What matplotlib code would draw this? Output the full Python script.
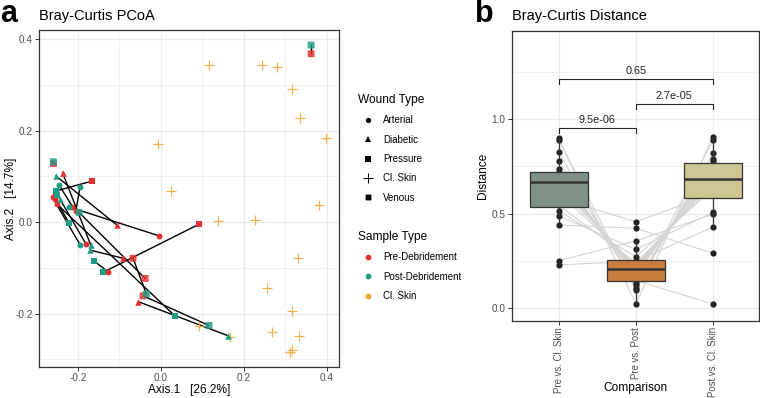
import matplotlib.pyplot as plt
from matplotlib.lines import Line2D
from matplotlib.path import Path
import numpy as np

plt.rcParams['font.family'] = ['Liberation Sans', 'DejaVu Sans']
plt.rcParams['axes.unicode_minus'] = False

# ---- panel a: Bray-Curtis PCoA (Axis.1, Axis.2) ----
pre_x = [0.362, -0.259, -0.237, -0.165, -0.205, -0.105, -0.004, 0.091, -0.091, -0.067,
         -0.038, -0.043, -0.054, -0.250, -0.181, -0.128, -0.261, -0.255, -0.213, -0.253]
pre_y = [0.368, 0.128, 0.108, 0.090, 0.024, -0.007, -0.030, -0.005, -0.079, -0.079,
         -0.123, -0.161, -0.174, 0.039, -0.047, -0.108, 0.054, 0.051, 0.034, 0.064]
pre_type = ['Venous', 'Venous', 'Diabetic', 'Pressure', 'Arterial', 'Diabetic', 'Arterial',
            'Pressure', 'Diabetic', 'Venous', 'Venous', 'Venous', 'Diabetic', 'Arterial',
            'Arterial', 'Arterial', 'Arterial', 'Arterial', 'Arterial', 'Pressure']

post_x = [0.362, -0.259, -0.169, -0.253, -0.195, -0.253, -0.221, -0.140, -0.171, -0.035,
          -0.197, 0.116, 0.161, 0.034, -0.243, -0.161, -0.195, -0.221, -0.246, -0.251]
post_y = [0.387, 0.132, -0.050, 0.068, 0.076, 0.101, 0.033, -0.110, -0.061, -0.157,
          0.021, -0.226, -0.248, -0.205, 0.050, -0.085, -0.049, -0.002, 0.082, 0.060]
post_type = ['Venous', 'Venous', 'Diabetic', 'Pressure', 'Arterial', 'Diabetic', 'Arterial',
             'Pressure', 'Diabetic', 'Venous', 'Venous', 'Venous', 'Diabetic', 'Pressure',
             'Diabetic', 'Pressure', 'Arterial', 'Pressure', 'Arterial', 'Pressure']

skin_x = [0.116, 0.244, 0.280, 0.316, 0.336, 0.398, -0.007, 0.024, 0.380, 0.138,
          0.227, 0.331, 0.255, 0.317, 0.267, 0.333, 0.317, 0.312, 0.092, 0.166]
skin_y = [0.343, 0.343, 0.339, 0.290, 0.227, 0.183, 0.171, 0.069, 0.038, 0.003,
          0.005, -0.079, -0.143, -0.194, -0.241, -0.249, -0.279, -0.284, -0.228, -0.250]

wound_types = ['Arterial', 'Diabetic', 'Pressure', 'Cl. Skin', 'Venous']
sample_types = ['Pre-Debridement', 'Post-Debridement', 'Cl. Skin']

# ---- panel b: Bray-Curtis distances, one value per patient ----
comparisons = ['Pre vs. Cl. Skin', 'Pre vs. Post', 'Post vs. Cl. Skin']
pre_vs_skin = [0.898, 0.891, 0.827, 0.780, 0.735, 0.718, 0.710, 0.700, 0.690, 0.674,
               0.660, 0.640, 0.610, 0.580, 0.545, 0.514, 0.489, 0.440, 0.251, 0.229]
pre_vs_post = [0.023, 0.097, 0.106, 0.123, 0.135, 0.147, 0.170, 0.180, 0.195, 0.200,
               0.212, 0.220, 0.230, 0.457, 0.240, 0.272, 0.311, 0.423, 0.356, 0.249]
post_vs_skin = [0.907, 0.889, 0.819, 0.790, 0.780, 0.023, 0.760, 0.740, 0.720, 0.700,
                0.690, 0.680, 0.670, 0.606, 0.650, 0.630, 0.507, 0.290, 0.497, 0.429]
p_values = ['9.5e-06', '2.7e-05', '0.65']
p_pairs = [(1, 2), (2, 3), (1, 3)]

# ---- styling ----
col_sample = {'Pre-Debridement': '#e8312f', 'Post-Debridement': '#1c9e84', 'Cl. Skin': '#f2a531'}
box_colors = ['#7d9285', '#c97d3f', '#cdc592']
grid_c = '#ebebeb'
border_c = '#333333'
tick_c = '#4d4d4d'

venous_marker = Path([(-1, -1), (1, -1), (1, 1), (-1, 1), (-1, -1), (-1, -1), (1, 1), (-1, 1), (1, -1)],
                     [Path.MOVETO, Path.LINETO, Path.LINETO, Path.LINETO, Path.CLOSEPOLY,
                      Path.MOVETO, Path.LINETO, Path.MOVETO, Path.LINETO])
markers = {'Arterial': 'o', 'Diabetic': '^', 'Pressure': 's', 'Cl. Skin': '+', 'Venous': venous_marker}
msize = {'Arterial': 18, 'Diabetic': 22, 'Pressure': 15, 'Venous': 14}


def ggplot_frame(ax):
    for s in ax.spines.values():
        s.set_color(border_c)
        s.set_linewidth(0.9)
    ax.tick_params(colors=border_c, labelcolor=tick_c, labelsize=7.2, length=2.75, width=0.7, pad=2)
    ax.grid(True, which='major', color=grid_c, linewidth=1.0, zorder=0)
    ax.grid(True, which='minor', color=grid_c, linewidth=0.5, zorder=0)
    ax.tick_params(which='minor', length=0)
    ax.set_axisbelow(True)


fig = plt.figure(figsize=(7.6, 3.98), dpi=100)

# ================= panel a =================
ax1 = fig.add_axes([39.3 / 760, 1 - 366.7 / 398, 300 / 760, 336.7 / 398])
ggplot_frame(ax1)
ax1.set_xlim(-0.293, 0.43)
ax1.set_ylim(-0.316, 0.42)
ax1.set_xticks([-0.2, 0.0, 0.2, 0.4])
ax1.set_yticks([-0.2, 0.0, 0.2, 0.4])
ax1.set_xticks([-0.1, 0.1, 0.3], minor=True)
ax1.set_yticks([-0.3, -0.1, 0.1, 0.3], minor=True)

# pre -> post connections
for i in range(len(pre_x)):
    ax1.plot([pre_x[i], post_x[i]], [pre_y[i], post_y[i]], color='black', lw=1.0, zorder=2)

ax1.scatter(skin_x, skin_y, marker='+', s=55, color=col_sample['Cl. Skin'], linewidths=0.9,
            alpha=0.85, zorder=3)

for xs, ys, types, name in [(pre_x, pre_y, pre_type, 'Pre-Debridement'),
                            (post_x, post_y, post_type, 'Post-Debridement')]:
    for wt in ['Arterial', 'Diabetic', 'Pressure', 'Venous']:
        idx = [i for i, t in enumerate(types) if t == wt]
        if not idx:
            continue
        px = [xs[i] for i in idx]
        py = [ys[i] for i in idx]
        if wt == 'Venous':
            ax1.scatter(px, py, marker=markers[wt], s=msize[wt], facecolors='none',
                        edgecolors=col_sample[name], linewidths=1.2, alpha=0.85, zorder=4)
        else:
            ax1.scatter(px, py, marker=markers[wt], s=msize[wt], color=col_sample[name],
                        linewidths=0, zorder=4)

ax1.set_xlabel('Axis.1   [26.2%]', fontsize=8.6, va='center')
ax1.set_ylabel('Axis.2   [14.7%]', fontsize=8.6, va='center')
ax1.xaxis.set_label_coords(0.5, (366.7 - 390) / 336.7)
ax1.yaxis.set_label_coords((11 - 39.3) / 300, 0.5)
fig.text(39.3 / 760, 1 - 16 / 398, 'Bray-Curtis PCoA', fontsize=10.5, va='center', ha='left')
fig.text(0.0, 1 - 21.5 / 398, 'a', fontsize=22, fontweight='bold', va='baseline', ha='left')

# legends
wound_handles = []
for wt in wound_types:
    if wt == 'Venous':
        wound_handles.append(Line2D([], [], ls='', marker=venous_marker, ms=3.2, mfc='none',
                                    mec='black', mew=1.0))
    elif wt == 'Cl. Skin':
        wound_handles.append(Line2D([], [], ls='', marker='+', ms=6.5, color='black', mew=0.8))
    else:
        wound_handles.append(Line2D([], [], ls='', marker=markers[wt], ms=3.8, color='black', mew=0))
sample_handles = [Line2D([], [], ls='', marker='o', ms=4.2, color=col_sample[s], mew=0)
                  for s in sample_types]

leg_kw = dict(loc='upper left', frameon=False, fontsize=7, title_fontsize=8.6, alignment='left',
              handlelength=2.0, handletextpad=0.6, labelspacing=0.96, borderpad=0, borderaxespad=0)
fig.legend(wound_handles, wound_types, title='Wound Type', bbox_to_anchor=(358 / 760, 1 - 94 / 398), **leg_kw)
fig.legend(sample_handles, sample_types, title='Sample Type', bbox_to_anchor=(358 / 760, 1 - 231 / 398), **leg_kw)

# ================= panel b =================
ax2 = fig.add_axes([512.3 / 760, 1 - 321 / 398, 247 / 760, 290.3 / 398])
ggplot_frame(ax2)
groups = [pre_vs_skin, pre_vs_post, post_vs_skin]
pos = np.arange(1, len(comparisons) + 1)

# paired patient lines
for i in range(len(pre_vs_skin)):
    ax2.plot(pos, [g[i] for g in groups], color='#d4d4d4', lw=0.8, zorder=1)
for p, g in zip(pos, groups):
    ax2.scatter(np.full(len(g), p), g, s=20, color='#222222', linewidths=0, zorder=2)

bp = ax2.boxplot(groups, positions=pos, widths=0.75, patch_artist=True, showfliers=False,
                 medianprops=dict(color=border_c, linewidth=1.8),
                 boxprops=dict(edgecolor=border_c, linewidth=0.9),
                 whiskerprops=dict(color=border_c, linewidth=0.9),
                 capprops=dict(linewidth=0), zorder=3)
for patch, c in zip(bp['boxes'], box_colors):
    patch.set_facecolor(c)

ax2.set_xlim(0.4, 3.6)
ax2.set_ylim(-0.067, 1.466)
ax2.set_yticks([0.0, 0.5, 1.0])
ax2.set_yticks([0.25, 0.75, 1.25], minor=True)
ax2.set_xticks(pos)
ax2.set_xticklabels(comparisons, rotation=90, fontsize=6.9)
ax2.tick_params(axis='x', pad=1.5)

bracket_y = [0.951, 1.081, 1.213]
for (a, b), lab, yb in zip(p_pairs, p_values, bracket_y):
    ax2.plot([a, a, b, b], [yb - 0.027, yb, yb, yb - 0.027], color='#222222', lw=0.8, zorder=4)
    ax2.text((a + b) / 2, yb + 0.016, lab, ha='center', va='bottom', fontsize=7.8, color='#222222')

ax2.set_xlabel('Comparison', fontsize=8.6, va='center')
ax2.set_ylabel('Distance', fontsize=8.6, va='center')
ax2.xaxis.set_label_coords(0.5, (321 - 388) / 290.3)
ax2.yaxis.set_label_coords((483 - 512.3) / 247, 0.5)
fig.text(512.3 / 760, 1 - 16 / 398, 'Bray-Curtis Distance', fontsize=10.5, va='center', ha='left')
fig.text(475 / 760, 1 - 21.5 / 398, 'b', fontsize=22, fontweight='bold', va='baseline', ha='left')

fig.savefig('out.png', dpi=100)
